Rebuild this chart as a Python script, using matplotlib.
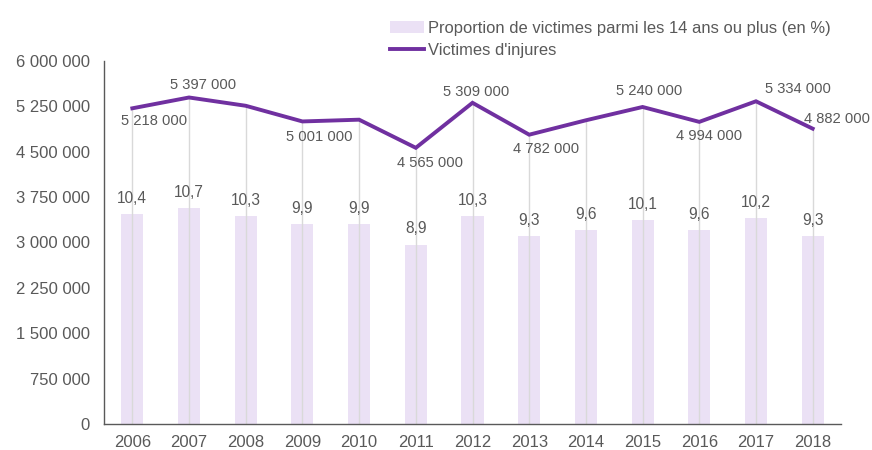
import matplotlib
matplotlib.use("Agg")
import matplotlib.pyplot as plt
from matplotlib.patches import Patch
from matplotlib.lines import Line2D
from matplotlib.ticker import FuncFormatter

plt.rcParams['font.family'] = ['Liberation Sans', 'DejaVu Sans']

years = ['2006', '2007', '2008', '2009', '2010', '2011', '2012',
         '2013', '2014', '2015', '2016', '2017', '2018']
victims = [5218000, 5397000, 5260000, 5001000, 5030000, 4565000, 5309000,
           4782000, 5020000, 5240000, 4994000, 5334000, 4882000]
victim_labels = ['5 218 000', '5 397 000', None, '5 001 000', None, '4 565 000',
                 '5 309 000', '4 782 000', None, '5 240 000', '4 994 000',
                 '5 334 000', '4 882 000']
proportion = [10.4, 10.7, 10.3, 9.9, 9.9, 8.9, 10.3, 9.3, 9.6, 10.1, 9.6, 10.2, 9.3]
prop_labels = ['10,4', '10,7', '10,3', '9,9', '9,9', '8,9', '10,3', '9,3',
               '9,6', '10,1', '9,6', '10,2', '9,3']
yticks = [0, 750000, 1500000, 2250000, 3000000, 3750000, 4500000, 5250000, 6000000]

# label offsets in pixels (dx, dy)
label_offsets = [(22, -13), (14, 12), None, (17, -16), None, (14, -15), (4, 11),
                 (17, -14), None, (7, 16), (10, -14), (42, 12), (24, 10)]

text_color = '#595959'
purple = '#7030A0'
bar_color = '#EBE1F5'
FS = 12

fig = plt.figure(figsize=(8.72, 4.5), dpi=100)
ax = fig.add_axes([104/872, 26/450, (841-104)/872, (424-61)/450])
ax2 = ax.twinx()
ax.set_zorder(ax2.get_zorder() + 1)
ax.patch.set_visible(False)

x = list(range(len(years)))

# bars on secondary axis
ax2.bar(x, proportion, width=0.39, color=bar_color, zorder=1)
ax2.set_ylim(0, 18)
ax2.set_yticks([])
for s in ax2.spines.values():
    s.set_visible(False)

# drop lines
ax.vlines(x, 0, victims, color='#D9D9D9', linewidth=1, zorder=2)
ax.plot(x, victims, color=purple, linewidth=2.8, zorder=3,
        solid_joinstyle='miter')
for xi, v, lab, off in zip(x, victims, victim_labels, label_offsets):
    if lab is None:
        continue
    ax.annotate(lab, (xi, v), xytext=off, textcoords='offset pixels',
                ha='center', va='center', fontsize=10.6, color=text_color, zorder=5)
for xi, v, lab in zip(x, proportion, prop_labels):
    ax.annotate(lab, (xi, v), xycoords=ax2.transData, xytext=(0, 16),
                textcoords='offset pixels', ha='center', va='center',
                fontsize=11.2, color=text_color, zorder=5)

ax.set_xlim(-0.5, len(years) - 0.5)
ax.set_ylim(0, 6000000)
ax.set_yticks(yticks)
ax.yaxis.set_major_formatter(FuncFormatter(lambda v, p: f"{int(v):,}".replace(',', ' ')))
ax.set_xticks(x)
ax.set_xticklabels(years)
ax.tick_params(axis='both', length=0, labelsize=FS, labelcolor=text_color)
ax.tick_params(axis='y', pad=10)
ax.tick_params(axis='x', pad=8)
for side in ['top', 'right']:
    ax.spines[side].set_visible(False)
ax.spines['left'].set_color('#595959')
ax.spines['bottom'].set_color('#595959')
ax.spines['left'].set_linewidth(1)
ax.spines['bottom'].set_linewidth(1)

handles = [Patch(facecolor=bar_color, edgecolor='none'),
           Line2D([0], [0], color=purple, linewidth=2.8)]
fig.legend(handles, ['Proportion de victimes parmi les 14 ans ou plus (en %)',
                     "Victimes d'injures"],
           loc='upper left', bbox_to_anchor=(378/872, 1 - 9/450),
           frameon=False, fontsize=11.9, labelcolor=text_color,
           handlelength=2.1, handletextpad=0.2, labelspacing=0.45,
           borderpad=0.2)

fig.savefig('out.png', dpi=100)
